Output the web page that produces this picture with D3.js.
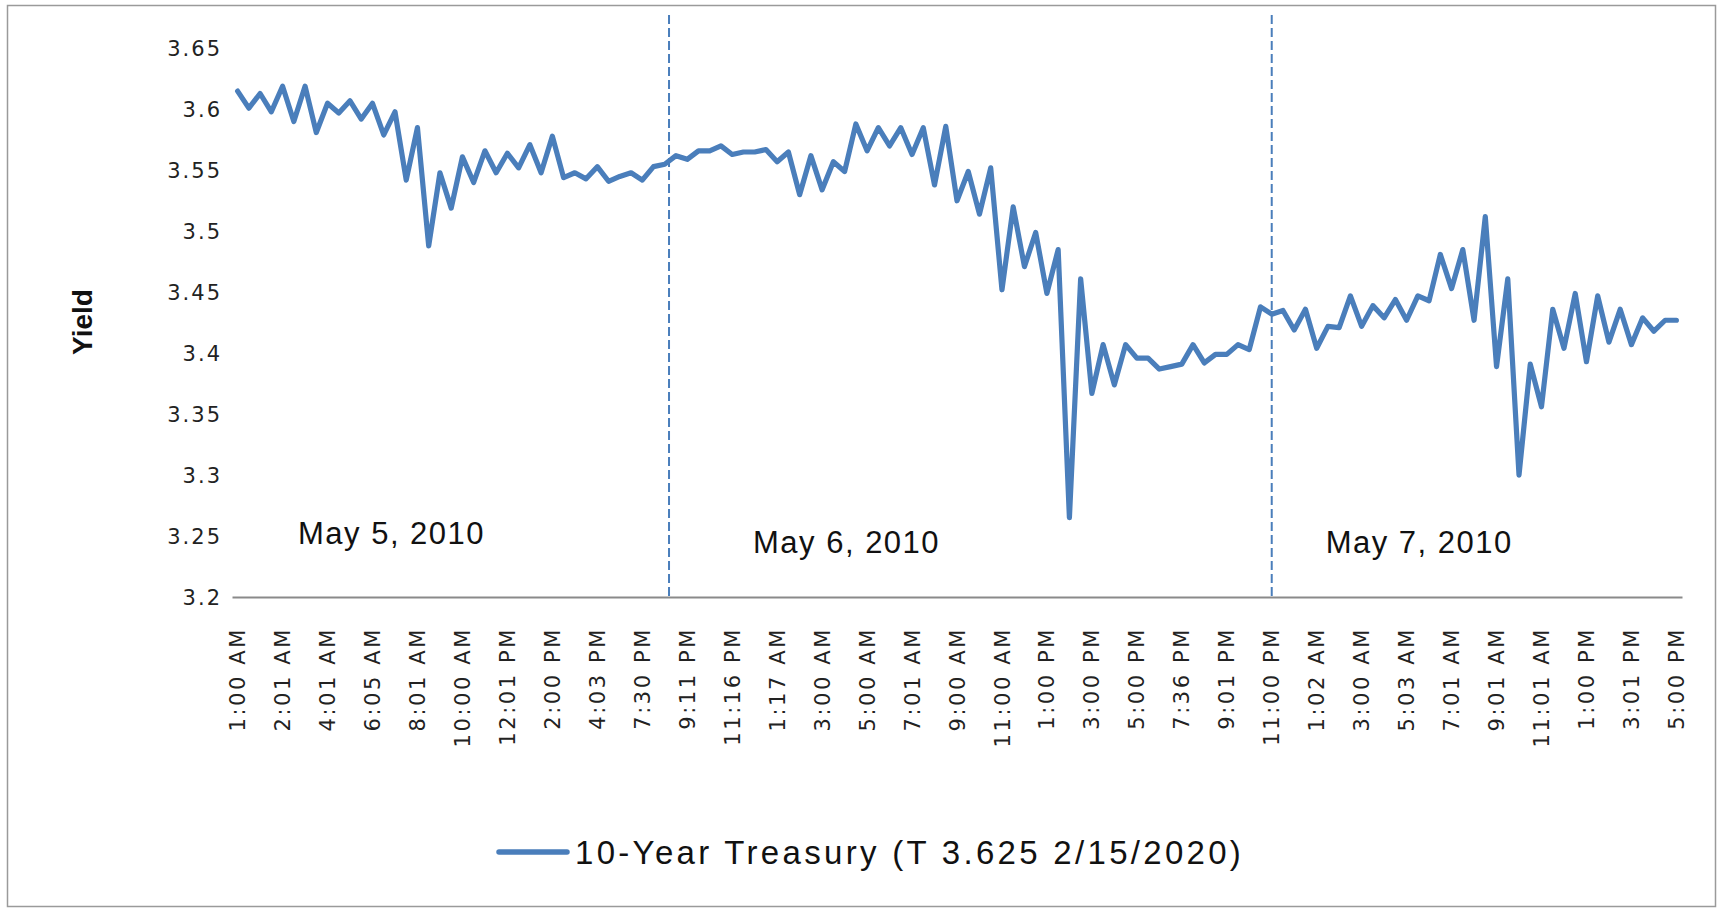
<!DOCTYPE html>
<html>
<head>
<meta charset="utf-8">
<script src="https://cdn.jsdelivr.net/npm/d3@7"></script>
<style>
  html, body { margin: 0; padding: 0; background: #fff; }
  svg { display: block; }
  .tick text { fill: #222; }
</style>
</head>
<body>
<div id="chart"></div>
<script>
const width = 1723;
const height = 911;

// yields, one per quote (129 quotes, May 5 1:00 AM .. May 7 5:00 PM)
const yields = [
  3.615, 3.601, 3.613, 3.598, 3.619, 3.590, 3.619, 3.581, 3.605, 3.597,
  3.607, 3.592, 3.605, 3.579, 3.598, 3.542, 3.585, 3.488, 3.548, 3.519,
  3.561, 3.540, 3.566, 3.548, 3.564, 3.552, 3.571, 3.548, 3.578, 3.544,
  3.548, 3.543, 3.553, 3.541, 3.545, 3.548, 3.542, 3.553, 3.555, 3.562,
  3.559, 3.566, 3.566, 3.570, 3.563, 3.565, 3.565, 3.567, 3.557, 3.565,
  3.530, 3.562, 3.534, 3.557, 3.549, 3.588, 3.566, 3.585, 3.570, 3.585,
  3.563, 3.585, 3.538, 3.586, 3.525, 3.549, 3.514, 3.552, 3.452, 3.520,
  3.471, 3.499, 3.449, 3.485, 3.265, 3.461, 3.367, 3.407, 3.374, 3.407,
  3.396, 3.396, 3.387, 3.389, 3.391, 3.407, 3.392, 3.399, 3.399, 3.407,
  3.403, 3.438, 3.432, 3.435, 3.419, 3.436, 3.404, 3.422, 3.421, 3.447,
  3.422, 3.439, 3.429, 3.444, 3.427, 3.447, 3.443, 3.481, 3.453, 3.485,
  3.427, 3.512, 3.389, 3.461, 3.300, 3.391, 3.356, 3.436, 3.404, 3.449,
  3.393, 3.447, 3.409, 3.436, 3.407, 3.429, 3.418, 3.427, 3.427
];

// every 4th quote carries a label on the axis
const timeLabels = [
  "1:00 AM", "2:01 AM", "4:01 AM", "6:05 AM", "8:01 AM", "10:00 AM",
  "12:01 PM", "2:00 PM", "4:03 PM", "7:30 PM", "9:11 PM", "11:16 PM",
  "1:17 AM", "3:00 AM", "5:00 AM", "7:01 AM", "9:00 AM", "11:00 AM",
  "1:00 PM", "3:00 PM", "5:00 PM", "7:36 PM", "9:01 PM", "11:00 PM",
  "1:02 AM", "3:00 AM", "5:03 AM", "7:01 AM", "9:01 AM", "11:01 AM",
  "1:00 PM", "3:01 PM", "5:00 PM"
];
const labelStep = 4;

const yTicks = [3.2, 3.25, 3.3, 3.35, 3.4, 3.45, 3.5, 3.55, 3.6, 3.65];
const dayNames = ["May 5, 2010", "May 6, 2010", "May 7, 2010"];
const seriesName = "10-Year Treasury (T 3.625 2/15/2020)";

const blue = "#4a7ebb";

const svg = d3.select("#chart")
  .append("svg")
  .attr("width", width)
  .attr("height", height)
  .attr("viewBox", `0 0 ${width} ${height}`);

svg.append("rect")
  .attr("width", width).attr("height", height)
  .attr("fill", "#fff");

// outer frame
svg.append("rect")
  .attr("x", 7.5).attr("y", 5.5)
  .attr("width", 1708).attr("height", 901)
  .attr("fill", "none")
  .attr("stroke", "#9a9a9a")
  .attr("stroke-width", 1.5);

const plot = { left: 232, right: 1682, top: 48.4, bottom: 597 };

const x = d3.scaleBand()
  .domain(d3.range(yields.length))
  .range([plot.left, plot.right]);
const bw = x.bandwidth();
// position of a (possibly fractional) quote index, at band centre
const xi = (i) => plot.left + (i + 0.5) * bw;

const y = d3.scaleLinear()
  .domain([3.2, 3.65])
  .range([plot.bottom, plot.top]);

// y axis: labels only
const yAxis = svg.append("g")
  .attr("transform", `translate(${plot.left},0)`)
  .call(d3.axisLeft(y)
    .tickValues(yTicks)
    .tickSize(0)
    .tickPadding(10)
    .tickFormat(d3.format(".2~f")));
yAxis.select(".domain").remove();
yAxis.selectAll("text")
  .attr("font-family", "DejaVu Sans")
  .attr("font-size", 21)
  .attr("letter-spacing", 2)
  .attr("dy", "0.36em");

svg.append("text")
  .attr("transform", "translate(92,322) rotate(-90)")
  .attr("text-anchor", "middle")
  .attr("font-family", "Liberation Sans")
  .attr("font-weight", "bold")
  .attr("font-size", 28)
  .attr("fill", "#111")
  .text("Yield");

// x axis
const xAxis = svg.append("g")
  .attr("transform", `translate(0,${plot.bottom})`)
  .call(d3.axisBottom(x)
    .tickValues(d3.range(0, yields.length, labelStep))
    .tickSize(0)
    .tickFormat((d) => timeLabels[d / labelStep]));
xAxis.select(".domain")
  .attr("stroke", "#8a8a8a")
  .attr("stroke-width", 2);
xAxis.selectAll("text")
  .attr("font-family", "DejaVu Sans")
  .attr("font-size", 21)
  .attr("letter-spacing", 2.6)
  .attr("text-anchor", "end")
  .attr("transform", "rotate(-90)")
  .attr("x", -30)
  .attr("y", 0)
  .attr("dy", "0.36em");

// day separators
const dayBreaks = [38.38, 92];
svg.append("g")
  .selectAll("line")
  .data(dayBreaks)
  .join("line")
  .attr("x1", (d) => xi(d)).attr("x2", (d) => xi(d))
  .attr("y1", 15).attr("y2", plot.bottom + 3)
  .attr("stroke", blue)
  .attr("stroke-width", 2)
  .attr("stroke-dasharray", "9 4");

// day names
const dayPos = [[5.37, 3.2435], [45.85, 3.2365], [96.8, 3.2365]];
svg.append("g")
  .selectAll("text")
  .data(dayNames)
  .join("text")
  .attr("x", (d, i) => xi(dayPos[i][0]))
  .attr("y", (d, i) => y(dayPos[i][1]))
  .attr("font-family", "Liberation Sans")
  .attr("font-size", 31)
  .attr("letter-spacing", 1.5)
  .attr("fill", "#111")
  .text((d) => d);

// series
const line = d3.line()
  .x((d, i) => xi(i))
  .y((d) => y(d));

svg.append("path")
  .datum(yields)
  .attr("d", line)
  .attr("fill", "none")
  .attr("stroke", blue)
  .attr("stroke-width", 5.2)
  .attr("stroke-linejoin", "round")
  .attr("stroke-linecap", "round");

// legend
const legend = svg.append("g").attr("transform", "translate(497,852)");
legend.append("line")
  .attr("x1", 2).attr("x2", 70)
  .attr("stroke", blue)
  .attr("stroke-width", 5.5)
  .attr("stroke-linecap", "round");
legend.append("text")
  .attr("x", 78)
  .attr("dy", "0.35em")
  .attr("font-family", "Liberation Sans")
  .attr("font-size", 33)
  .attr("letter-spacing", 3.3)
  .attr("fill", "#111")
  .text(seriesName);
</script>
</body>
</html>
